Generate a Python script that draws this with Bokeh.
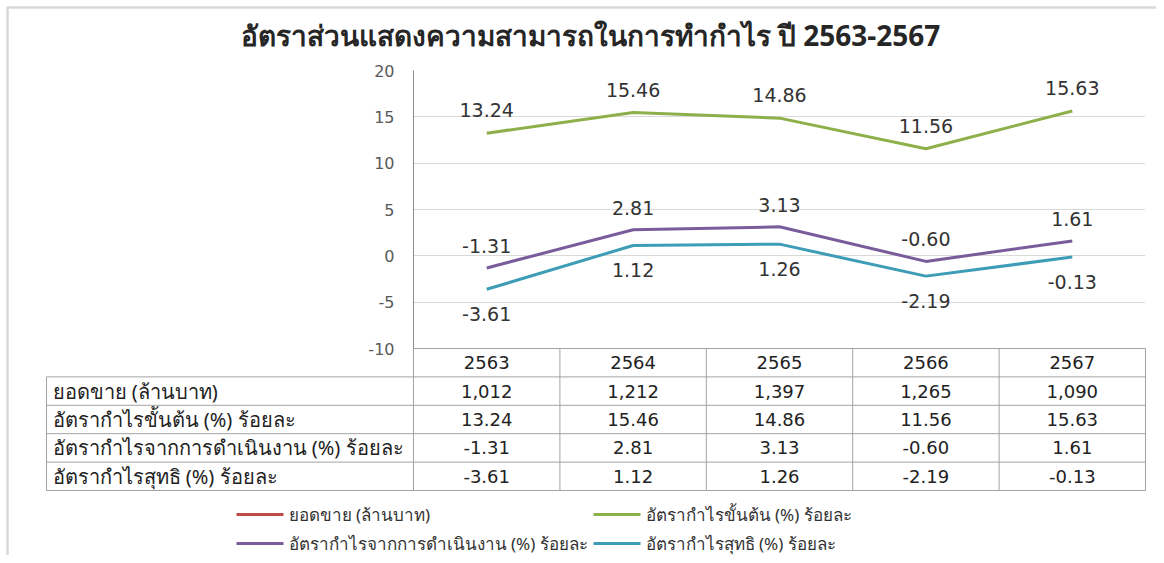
from bokeh.plotting import figure
from bokeh.models import Range1d, FixedTicker
from bokeh.core.properties import value
from bokeh.embed import file_html
from bokeh.resources import INLINE

# ---------------- data ----------------
years = ["2563", "2564", "2565", "2566", "2567"]
sales = [1012, 1212, 1397, 1265, 1090]
gross_margin = [13.24, 15.46, 14.86, 11.56, 15.63]
operating_margin = [-1.31, 2.81, 3.13, -0.60, 1.61]
net_margin = [-3.61, 1.12, 1.26, -2.19, -0.13]
series_names = [
    "ยอดขาย (ล้านบาท)",
    "อัตรากำไรขั้นต้น (%) ร้อยละ",
    "อัตรากำไรจากการดำเนินงาน (%) ร้อยละ",
    "อัตรากำไรสุทธิ (%) ร้อยละ",
]
y_ticks = [-10, -5, 0, 5, 10, 15, 20]
title_text = "อัตราส่วนแสดงความสามารถในการทำกำไร ปี 2563-2567"

# ---------------- styles ----------------
COLORS = ["#BE4B48", "#8EB04A", "#7A5C9C", "#3E9DB6"]
THAI = value("Noto Sans")
NUM_F = "DejaVu Sans"
NUM = value(NUM_F)
GRID = "#d9d9d9"
TBL = "#a3a3a3"

W, H = 1156, 555
FL, FR, FT, FB = 413, 1145, 70, 490        # frame edges in canvas pixels
Y_TOP, Y_BOT_TICK, Y_BOT_PX = 20, -10, 348
PPU_Y = (Y_BOT_PX - FT) / (Y_TOP - Y_BOT_TICK)
Y_MIN = Y_BOT_TICK - (FB - Y_BOT_PX) / PPU_Y
N = len(years)
PPU_X = (FR - FL) / N
ROW_H = (FB - Y_BOT_PX) / 5
TBL_TOP = (FB - FT) / ROW_H

def px2x(px):
    return (px - FL) / PPU_X

def py2y(py):
    return Y_TOP - (py - FT) / PPU_Y

p = figure(width=W, height=H, x_range=Range1d(0, N), y_range=Range1d(Y_MIN, Y_TOP),
           output_backend="svg", toolbar_location=None, x_axis_location=None,
           min_border_left=FL, min_border_right=W - FR, min_border_top=FT,
           min_border_bottom=H - FB)
p.extra_y_ranges = {"tbl": Range1d(0, TBL_TOP)}
p.outline_line_color = None
p.background_fill_color = "white"
p.border_fill_color = "white"

# axis
ax = p.yaxis[0]
ax.ticker = FixedTicker(ticks=y_ticks)
ax.major_label_overrides = {t: str(t) for t in y_ticks}
ax.major_tick_line_color = None
ax.minor_tick_line_color = None
ax.major_tick_out = 0
ax.major_tick_in = 0
ax.major_label_standoff = 19
ax.axis_line_color = "#8c8c8c"
ax.major_label_text_font = NUM_F
ax.major_label_text_font_size = "16px"
ax.major_label_text_color = "#595959"
p.ygrid.ticker = FixedTicker(ticks=y_ticks)
p.ygrid.grid_line_color = GRID
p.xgrid.grid_line_color = None

xs = [i + 0.5 for i in range(N)]

# lines (sales is on a different scale and lies outside the visible range)
renderers = []
for vals, col in zip([sales, gross_margin, operating_margin, net_margin], COLORS):
    renderers.append(p.line(xs, vals, line_color=col, line_width=3))

def fmt(v):
    return f"{v:.2f}"

label_kw = dict(text_font=NUM, text_font_size="19px", text_color="#333333",
                text_align="center", text_baseline="middle")
p.text(xs, gross_margin, text=[fmt(v) for v in gross_margin], y_offset=-23, **label_kw)
p.text(xs, operating_margin, text=[fmt(v) for v in operating_margin], y_offset=-22, **label_kw)
p.text(xs, net_margin, text=[fmt(v) for v in net_margin], y_offset=25, **label_kw)

# ---------------- data table ----------------
rows = [
    [f"{v:,}" for v in sales],
    [fmt(v) for v in gross_margin],
    [fmt(v) for v in operating_margin],
    [fmt(v) for v in net_margin],
]
LEFT = px2x(46)
hx0 = [LEFT] * 5 + [0]
hx1 = [N] * 6
hy = [0, 1, 2, 3, 4, 5]
p.segment(hx0, hy, hx1, hy, y_range_name="tbl", line_color=TBL, line_width=1, level="overlay")
vx = [LEFT] + list(range(N + 1))
vy0 = [0] * len(vx)
vy1 = [4] + [5] * (N + 1)
p.segment(vx, vy0, vx, vy1, y_range_name="tbl", line_color=TBL, line_width=1, level="overlay")

tbl_kw = dict(y_range_name="tbl", text_font=NUM, text_font_size="18px", text_color="#222222",
              text_align="center", text_baseline="middle", level="overlay")
p.text(xs, [4.5] * N, text=years, **tbl_kw)
for ri, row in enumerate(rows):
    p.text(xs, [3.5 - ri] * N, text=row, **tbl_kw)
p.text([LEFT] * 4, [3.5, 2.5, 1.5, 0.5], text=series_names, x_offset=6, y_range_name="tbl",
       text_font=THAI, text_font_size="20px", text_color="#222222", text_align="left",
       text_baseline="middle", level="overlay")

# ---------------- title ----------------
p.text([px2x(590)], [py2y(34)], text=[title_text], text_font=THAI, text_font_size="28px",
       text_font_style="bold", text_color="#262626", text_align="center",
       text_baseline="middle", level="overlay")

# ---------------- legend (2 x 2 grid) ----------------
leg_rows_px = [514, 514, 543, 543]
leg_cols_px = [236, 593, 236, 593]
LEG_LEN = 47
for name, col, cx, cy in zip(series_names, COLORS, leg_cols_px, leg_rows_px):
    p.segment([px2x(cx)], [py2y(cy)], [px2x(cx + LEG_LEN)], [py2y(cy)],
              line_color=col, line_width=3, level="overlay")
    p.text([px2x(cx + LEG_LEN)], [py2y(cy)], text=[name], x_offset=5,
           text_font=THAI, text_font_size="17px", text_color="#333333",
           text_align="left", text_baseline="middle", level="overlay")

# ---------------- outer chart border ----------------
p.line([px2x(7), px2x(7), px2x(1170)], [py2y(570), py2y(7), py2y(7)],
       line_color="#d9d9d9", line_width=2.5, level="overlay")

open("out.html", "w").write(file_html(p, INLINE))
